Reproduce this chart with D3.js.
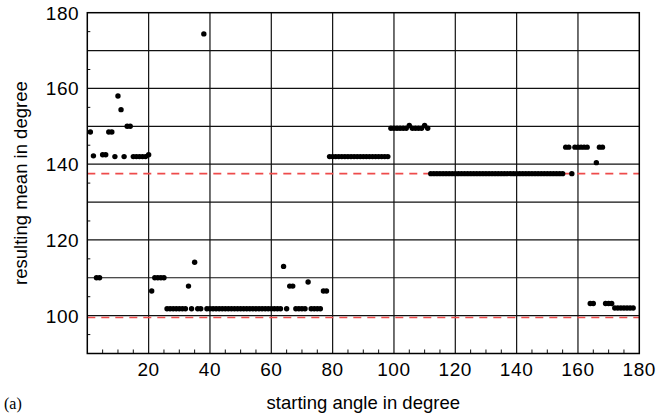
<!DOCTYPE html>
<html>
<head>
<meta charset="utf-8">
<script src="https://cdn.jsdelivr.net/npm/d3@7.9.0/dist/d3.min.js"></script>
<style>
  body { margin: 0; background: #fff; }
  svg { display: block; }
</style>
</head>
<body>
<svg id="chart"></svg>
<script>
// starting angle (deg) -> resulting mean (deg)
const angles = [
  1, 2, 3, 4, 5, 6, 7, 8, 9, 10, 11, 12, 13, 14, 15, 16, 17, 18, 19, 20,
  21, 22, 23, 24, 25, 26, 27, 28, 29, 30, 31, 32, 33, 34, 35, 36, 37, 38, 39, 40,
  41, 42, 43, 44, 45, 46, 47, 48, 49, 50, 51, 52, 53, 54, 55, 56, 57, 58, 59, 60,
  61, 62, 63, 64, 65, 66, 67, 68, 69, 70, 71, 72, 73, 74, 75, 76, 77, 78, 79, 80,
  81, 82, 83, 84, 85, 86, 87, 88, 89, 90, 91, 92, 93, 94, 95, 96, 97, 98, 99, 100,
  101, 102, 103, 104, 105, 106, 107, 108, 109, 110, 111, 112, 113, 114, 115, 116, 117, 118, 119, 120,
  121, 122, 123, 124, 125, 126, 127, 128, 129, 130, 131, 132, 133, 134, 135, 136, 137, 138, 139, 140,
  141, 142, 143, 144, 145, 146, 147, 148, 149, 150, 151, 152, 153, 154, 155, 156, 157, 158, 159, 160,
  161, 162, 163, 164, 165, 166, 167, 168, 169, 170, 171, 172, 173, 174, 175, 176, 177, 178
];
const means = [
  148.5, 142.2, 110, 110, 142.5, 142.5, 148.5, 148.5, 142, 158, 154.4, 142, 150, 150, 142, 142, 142, 142, 142, 142.5,
  106.5, 110, 110, 110, 110, 101.8, 101.8, 101.8, 101.8, 101.8, 101.8, 101.8, 107.8, 101.8, 114.1, 101.8, 101.8, 174.4, 101.8, 101.8,
  101.8, 101.8, 101.8, 101.8, 101.8, 101.8, 101.8, 101.8, 101.8, 101.8, 101.8, 101.8, 101.8, 101.8, 101.8, 101.8, 101.8, 101.8, 101.8, 101.8,
  101.8, 101.8, 101.8, 113, 101.8, 107.8, 107.8, 101.8, 101.8, 101.8, 101.8, 108.9, 101.8, 101.8, 101.8, 101.8, 106.5, 106.5, 142, 142,
  142, 142, 142, 142, 142, 142, 142, 142, 142, 142, 142, 142, 142, 142, 142, 142, 142, 142, 149.5, 149.5,
  149.5, 149.5, 149.5, 149.5, 150.2, 149.5, 149.5, 149.5, 149.5, 150.2, 149.5, 137.5, 137.5, 137.5, 137.5, 137.5, 137.5, 137.5, 137.5, 137.5,
  137.5, 137.5, 137.5, 137.5, 137.5, 137.5, 137.5, 137.5, 137.5, 137.5, 137.5, 137.5, 137.5, 137.5, 137.5, 137.5, 137.5, 137.5, 137.5, 137.5,
  137.5, 137.5, 137.5, 137.5, 137.5, 137.5, 137.5, 137.5, 137.5, 137.5, 137.5, 137.5, 137.5, 137.5, 137.5, 144.5, 144.5, 137.5, 144.5, 144.5,
  144.5, 144.5, 144.5, 103.2, 103.2, 140.4, 144.5, 144.5, 103.2, 103.2, 103.2, 102, 102, 102, 102, 102, 102, 102
];
const refLines = [137.5, 99.5];
const xTicks = [20, 40, 60, 80, 100, 120, 140, 160, 180];
const yTicks = [100, 120, 140, 160, 180];

const W = 659, H = 419;
const margin = { top: 12.7, right: 19.7, bottom: 65.5, left: 87.3 };
const width = W - margin.left - margin.right;
const height = H - margin.top - margin.bottom;

const svg = d3.select("#chart").attr("width", W).attr("height", H);
const g = svg.append("g").attr("transform", `translate(${margin.left},${margin.top})`);

const x = d3.scaleLinear().domain([0, 180]).range([0, width]);
const y = d3.scaleLinear().domain([90, 180]).range([height, 0]);

// grid
g.append("g").selectAll("line")
    .data(d3.range(100, 180, 10))
    .enter().append("line")
    .attr("x1", 0).attr("x2", width)
    .attr("y1", d => y(d)).attr("y2", d => y(d))
    .attr("stroke", "#111").attr("stroke-width", 1.2);

g.append("g").selectAll("line")
    .data(d3.range(20, 180, 20))
    .enter().append("line")
    .attr("y1", 0).attr("y2", height)
    .attr("x1", d => x(d)).attr("x2", d => x(d))
    .attr("stroke", "#111").attr("stroke-width", 1.2);

// minor ticks
g.append("g").selectAll("line")
    .data(d3.range(5, 180, 5).filter(d => d % 20 !== 0))
    .enter().append("line")
    .attr("x1", d => x(d)).attr("x2", d => x(d))
    .attr("y1", height).attr("y2", height - 4)
    .attr("stroke", "#111");

g.append("g").selectAll("line")
    .data(d3.range(95, 180, 10))
    .enter().append("line")
    .attr("x1", 0).attr("x2", 3)
    .attr("y1", d => y(d)).attr("y2", d => y(d))
    .attr("stroke", "#111");

// reference lines
g.append("g").selectAll("line")
    .data(refLines)
    .enter().append("line")
    .attr("x1", 0).attr("x2", width)
    .attr("y1", d => y(d)).attr("y2", d => y(d))
    .attr("stroke", "#ee4b4b")
    .attr("stroke-width", 1.6)
    .attr("stroke-dasharray", "8,6");

// frame
g.append("rect")
    .attr("width", width).attr("height", height)
    .attr("fill", "none").attr("stroke", "#000").attr("stroke-width", 1.5);

// points
g.append("g").selectAll("circle")
    .data(angles.map((a, i) => ({ a, m: means[i] })))
    .enter().append("circle")
    .attr("cx", d => x(d.a))
    .attr("cy", d => y(d.m))
    .attr("r", 2.7)
    .attr("fill", "#000");

// tick labels
const font = "Liberation Sans, Arial, Helvetica, sans-serif";
g.append("g").selectAll("text")
    .data(xTicks)
    .enter().append("text")
    .attr("x", d => x(d)).attr("y", height + 23)
    .attr("text-anchor", "middle")
    .style("font-family", font).style("font-size", "19px")
    .style("letter-spacing", "0.6px")
    .text(d => d);

g.append("g").selectAll("text")
    .data(yTicks)
    .enter().append("text")
    .attr("x", -8).attr("y", d => y(d) + 7)
    .attr("text-anchor", "end")
    .style("font-family", font).style("font-size", "19px")
    .style("letter-spacing", "0.6px")
    .text(d => d);

// axis titles
svg.append("text")
    .attr("x", margin.left + width / 2).attr("y", 409)
    .attr("text-anchor", "middle")
    .style("font-family", font).style("font-size", "18.5px")
    .text("starting angle in degree");

svg.append("text")
    .attr("transform", `translate(27,${margin.top + height / 2}) rotate(-90)`)
    .attr("text-anchor", "middle")
    .style("font-family", font).style("font-size", "18.5px")
    .text("resulting mean in degree");

svg.append("text")
    .attr("x", 4).attr("y", 409)
    .style("font-family", "Liberation Serif, Times New Roman, serif").style("font-size", "16px")
    .text("(a)");
</script>
</body>
</html>
